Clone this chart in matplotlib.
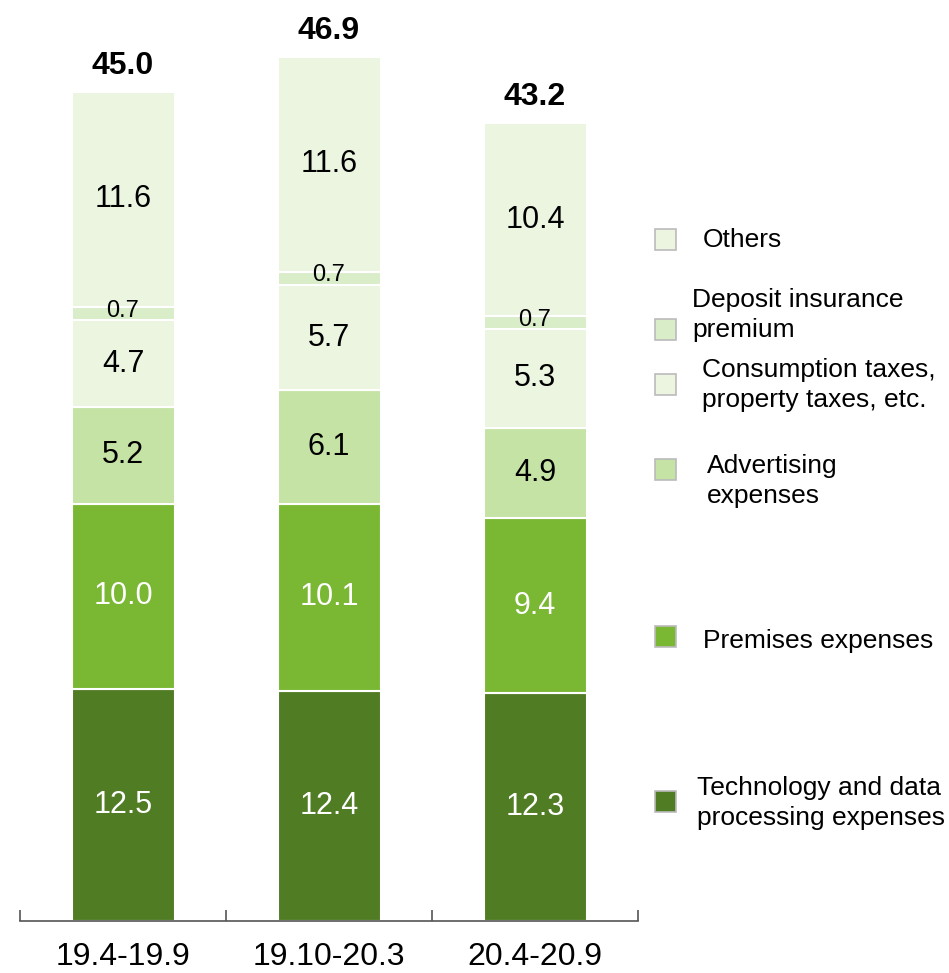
import matplotlib.pyplot as plt
from matplotlib.patches import Rectangle

plt.rcParams['font.family'] = ['Liberation Sans', 'DejaVu Sans']

periods = ['19.4-19.9', '19.10-20.3', '20.4-20.9']
totals = [45.0, 46.9, 43.2]

# stacked from the bottom up
series_names = [
    'Technology and data\nprocessing expenses',
    'Premises expenses',
    'Advertising\nexpenses',
    'Consumption taxes,\nproperty taxes, etc.',
    'Deposit insurance\npremium',
    'Others',
]
technology = [12.5, 12.4, 12.3]
premises = [10.0, 10.1, 9.4]
advertising = [5.2, 6.1, 4.9]
taxes = [4.7, 5.7, 5.3]
deposit = [0.7, 0.7, 0.7]
others = [11.6, 11.6, 10.4]
series = [technology, premises, advertising, taxes, deposit, others]

colors = ['#507c24', '#7ab834', '#c5e3a5', '#ebf5e0', '#d9edc8', '#ebf5e0']
text_colors = ['white', 'white', 'black', 'black', 'black', 'black']
label_sizes = [22, 22, 22, 22, 17, 22]

W, H = 949, 973
PX_PER_UNIT = 18.55
fig = plt.figure(figsize=(W / 100, H / 100), dpi=100)
ax = fig.add_axes([20 / W, 52 / H, 618 / W, 921 / H])

x = list(range(len(periods)))
bottoms = [0.0] * len(periods)
for vals, col, tc, fs in zip(series, colors, text_colors, label_sizes):
    ax.bar(x, vals, width=0.5, bottom=bottoms, color=col,
           edgecolor='white', linewidth=1.5)
    for i, v in enumerate(vals):
        # small slices get their label nudged up a touch
        yc = bottoms[i] + v / 2 + (0.15 if v < 1 else 0)
        ax.text(i, yc, f'{v:.1f}', ha='center', va='center',
                fontsize=fs, color=tc)
    bottoms = [b + v for b, v in zip(bottoms, vals)]

for i, t in enumerate(totals):
    ax.text(i, bottoms[i] + 26 / PX_PER_UNIT, f'{t:.1f}', ha='center',
            va='center', fontsize=23, fontweight='bold')

ax.set_xlim(-0.5, 2.5)
ax.set_ylim(0, 921 / PX_PER_UNIT)
for side in ['top', 'right', 'left']:
    ax.spines[side].set_visible(False)
ax.spines['bottom'].set_color('#555555')
ax.spines['bottom'].set_linewidth(1.2)
ax.set_yticks([])
ax.set_xticks([-0.5, 0.5, 1.5, 2.5])
ax.set_xticklabels([])
ax.tick_params(axis='x', direction='in', length=8, color='#555555', width=1.2)

for i, p in enumerate(periods):
    ax.text(i, -44 / 921, p, transform=ax.get_xaxis_transform(),
            ha='center', va='baseline', fontsize=23)

# legend built by hand, top item first
legend_rows = [
    # (series index, marker centre y, text left x, text centre y)
    (5, 240, 703, 240),
    (4, 330, 692, 315),
    (3, 385, 702, 385),
    (2, 470, 707, 481),
    (1, 637, 703, 641),
    (0, 802, 697, 803),
]
for idx, my, tx, ty in legend_rows:
    fig.patches.append(Rectangle((655 / W, 1 - (my + 10) / H), 21 / W, 21 / H,
                                 transform=fig.transFigure, facecolor=colors[idx],
                                 edgecolor='#bbbbbb', linewidth=1.2))
    fig.text(tx / W, 1 - ty / H, series_names[idx], ha='left', va='center',
             fontsize=19, linespacing=1.3)

fig.savefig('out.png', dpi=100)
